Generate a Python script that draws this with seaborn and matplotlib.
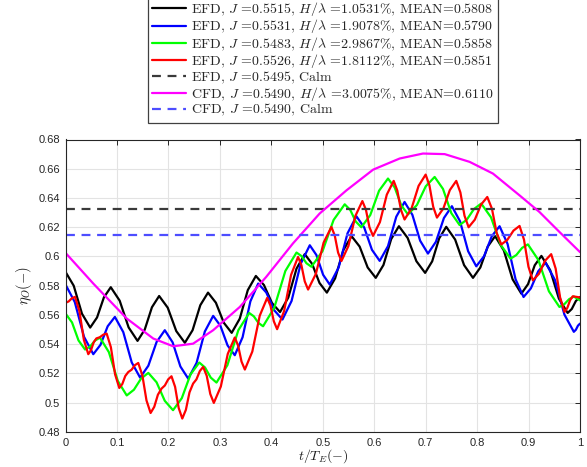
import numpy as np
import pandas as pd
import matplotlib
matplotlib.use("Agg")
import matplotlib.pyplot as plt
import seaborn as sns

# ---------------- data ----------------
t_black = [0, 0.016, 0.032, 0.048, 0.0613, 0.0747, 0.088, 0.1053, 0.1227, 0.140,
           0.154, 0.168, 0.182, 0.1987, 0.2153, 0.232, 0.247, 0.262, 0.277, 0.2923,
           0.3077, 0.323, 0.3387, 0.3543, 0.370, 0.3857, 0.4013, 0.417, 0.433, 0.449,
           0.465, 0.4793, 0.4937, 0.508, 0.524, 0.540, 0.556, 0.5717, 0.5873, 0.603,
           0.618, 0.633, 0.648, 0.665, 0.682, 0.699, 0.7127, 0.7263, 0.740, 0.7573,
           0.7747, 0.792, 0.8063, 0.8207, 0.835, 0.852, 0.869, 0.886, 0.899, 0.912,
           0.925, 0.942, 0.959, 0.976, 0.984, 0.992, 1.0]
eta_black = [0.5895, 0.5800, 0.5609, 0.5514, 0.5583, 0.5721, 0.5790, 0.5698, 0.5515, 0.5423,
             0.5500, 0.5653, 0.5730, 0.5650, 0.5490, 0.5410, 0.5496, 0.5667, 0.5753, 0.5684,
             0.5547, 0.5478, 0.5575, 0.5770, 0.5867, 0.5805, 0.5682, 0.5620, 0.5719, 0.5917,
             0.6016, 0.5950, 0.5819, 0.5753, 0.5850, 0.6043, 0.6139, 0.6068, 0.5925, 0.5854,
             0.5942, 0.6119, 0.6207, 0.6127, 0.5968, 0.5888, 0.5967, 0.6124, 0.6203, 0.6116,
             0.5941, 0.5854, 0.5925, 0.6068, 0.6139, 0.6041, 0.5844, 0.5746, 0.5811, 0.5940,
             0.6004, 0.5907, 0.5712, 0.5614, 0.5641, 0.5696, 0.5723]

t_blue = [0, 0.018, 0.036, 0.054, 0.068, 0.082, 0.096, 0.1123, 0.1287, 0.145,
          0.161, 0.177, 0.193, 0.2082, 0.2233, 0.2385, 0.2547, 0.2708, 0.287, 0.301,
          0.315, 0.329, 0.3442, 0.3593, 0.3745, 0.3902, 0.406, 0.4217, 0.4394, 0.4571,
          0.4748, 0.4877, 0.5007, 0.5136, 0.5309, 0.5481, 0.5654, 0.5805, 0.5956, 0.6107,
          0.6268, 0.6429, 0.659, 0.6742, 0.6893, 0.7045, 0.72, 0.7355, 0.751, 0.7668,
          0.7826, 0.7984, 0.8135, 0.8286, 0.8437, 0.8592, 0.8748, 0.8903, 0.9045, 0.9188,
          0.933, 0.9513, 0.9697, 0.988, 0.992, 0.996, 1.0]
eta_blue = [0.5808, 0.5689, 0.5451, 0.5332, 0.5396, 0.5523, 0.5587, 0.5483, 0.5276, 0.5172,
            0.5253, 0.5415, 0.5496, 0.5413, 0.5248, 0.5165, 0.5272, 0.5487, 0.5594, 0.5527,
            0.5392, 0.5325, 0.5448, 0.5693, 0.5815, 0.5754, 0.5631, 0.5569, 0.5696, 0.5950,
            0.6077, 0.6010, 0.5875, 0.5808, 0.5925, 0.6158, 0.6275, 0.6199, 0.6046, 0.5970,
            0.6071, 0.6272, 0.6373, 0.6285, 0.6108, 0.6020, 0.6101, 0.6263, 0.6344, 0.6241,
            0.6036, 0.5933, 0.6002, 0.6139, 0.6207, 0.6086, 0.5844, 0.5723, 0.5782, 0.5899,
            0.5958, 0.5840, 0.5603, 0.5485, 0.5499, 0.5527, 0.5541]

t_green = [0, 0.0127, 0.0253, 0.038, 0.0477, 0.0573, 0.067, 0.0843, 0.1017, 0.119,
           0.133, 0.147, 0.161, 0.177, 0.193, 0.209, 0.226, 0.243, 0.260, 0.2712,
           0.2823, 0.2935, 0.3147, 0.3358, 0.357, 0.366, 0.375, 0.384, 0.4057, 0.4273,
           0.449, 0.4587, 0.4683, 0.478, 0.4996, 0.5211, 0.5427, 0.5535, 0.5642, 0.575,
           0.5923, 0.6095, 0.6268, 0.6398, 0.6527, 0.6657, 0.6830, 0.7002, 0.7175, 0.7337,
           0.7498, 0.766, 0.780, 0.794, 0.808, 0.827, 0.846, 0.865, 0.8762, 0.8875,
           0.8987, 0.9191, 0.9396, 0.960, 0.9693, 0.9787, 0.988, 0.994, 1.0]
eta_green = [0.5610, 0.5549, 0.5426, 0.5364, 0.5384, 0.5425, 0.5445, 0.5346, 0.5149, 0.5050,
             0.5089, 0.5166, 0.5204, 0.5140, 0.5013, 0.4949, 0.5031, 0.5194, 0.5275, 0.5241,
             0.5172, 0.5138, 0.5257, 0.5495, 0.5614, 0.5591, 0.5546, 0.5523, 0.5649, 0.5901,
             0.6027, 0.6003, 0.5954, 0.5930, 0.6037, 0.6250, 0.6357, 0.6318, 0.6239, 0.6200,
             0.6283, 0.6450, 0.6533, 0.6472, 0.6349, 0.6288, 0.6352, 0.6480, 0.6544, 0.6462,
             0.6297, 0.6215, 0.6252, 0.6325, 0.6362, 0.6268, 0.6079, 0.5985, 0.6010, 0.6059,
             0.6083, 0.5976, 0.5762, 0.5655, 0.5673, 0.5708, 0.5726, 0.5713, 0.5700]

t_red = [0, 0.0062, 0.0123, 0.0185, 0.0271, 0.0357, 0.0443, 0.0495, 0.0548, 0.060,
         0.0667, 0.0733, 0.080, 0.0882, 0.0964, 0.1046, 0.1104, 0.1162, 0.122, 0.1285,
         0.1349, 0.1414, 0.1494, 0.1574, 0.1654, 0.1725, 0.1796, 0.1867, 0.1931, 0.1996,
         0.206, 0.213, 0.220, 0.227, 0.234, 0.241, 0.248, 0.2545, 0.2611, 0.2676,
         0.2745, 0.2814, 0.2883, 0.3019, 0.3154, 0.329, 0.3355, 0.3421, 0.3486, 0.3631,
         0.3775, 0.392, 0.3984, 0.4049, 0.4113, 0.4249, 0.4384, 0.452, 0.4585, 0.465,
         0.4715, 0.4866, 0.5017, 0.5168, 0.5233, 0.5298, 0.5363, 0.5499, 0.5634, 0.577,
         0.5839, 0.5908, 0.5977, 0.6111, 0.6245, 0.6379, 0.6449, 0.652, 0.659, 0.6727,
         0.6863, 0.700, 0.7073, 0.7147, 0.722, 0.7345, 0.747, 0.7595, 0.7675, 0.7755,
         0.7835, 0.7956, 0.8077, 0.8198, 0.8289, 0.8379, 0.847, 0.8588, 0.8707, 0.8825,
         0.8911, 0.8998, 0.9084, 0.9203, 0.9321, 0.944, 0.9527, 0.9613, 0.970, 0.9753,
         0.9807, 0.986, 0.993, 1.0]
eta_red = [0.5683, 0.5693, 0.5714, 0.5724, 0.5626, 0.5430, 0.5332, 0.5359, 0.5413, 0.5440,
           0.5448, 0.5465, 0.5473, 0.5380, 0.5194, 0.5101, 0.5128, 0.5183, 0.5210, 0.5226,
           0.5257, 0.5272, 0.5187, 0.5016, 0.4930, 0.4972, 0.5055, 0.5097, 0.5118, 0.5160,
           0.5181, 0.5109, 0.4964, 0.4892, 0.4952, 0.5071, 0.5131, 0.5160, 0.5217, 0.5245,
           0.5184, 0.5060, 0.4999, 0.5111, 0.5334, 0.5446, 0.5391, 0.5282, 0.5227, 0.5350,
           0.5595, 0.5717, 0.5664, 0.5557, 0.5503, 0.5627, 0.5874, 0.5997, 0.5941, 0.5830,
           0.5774, 0.5881, 0.6095, 0.6202, 0.6144, 0.6027, 0.5969, 0.6072, 0.6277, 0.6379,
           0.6320, 0.6200, 0.6141, 0.6235, 0.6423, 0.6517, 0.6451, 0.6319, 0.6253, 0.6330,
           0.6483, 0.6560, 0.6487, 0.6340, 0.6266, 0.6329, 0.6454, 0.6517, 0.6438, 0.6279,
           0.6200, 0.6252, 0.6355, 0.6407, 0.6326, 0.6163, 0.6082, 0.6114, 0.6177, 0.6209,
           0.6116, 0.5930, 0.5837, 0.5882, 0.5971, 0.6016, 0.5917, 0.5720, 0.5621, 0.5648,
           0.5701, 0.5728, 0.5724, 0.5720]

t_cfd = [0, 0.054, 0.119, 0.1706, 0.2094, 0.248, 0.287, 0.3388, 0.39, 0.442, 0.494,
         0.546, 0.598, 0.6495, 0.6948, 0.737, 0.7855, 0.8308, 0.8825, 0.921, 0.96, 1.0]
eta_cfd = [0.6025, 0.5815, 0.5576, 0.5439, 0.5386, 0.5404, 0.5496, 0.5655, 0.5860, 0.6089, 0.6294,
           0.6452, 0.6594, 0.6670, 0.6704, 0.6700, 0.6647, 0.6567, 0.6418, 0.6305, 0.6168, 0.6030]

t_calm = [0.0, 1.0]
eta_efd_calm = [0.6323, 0.6323]
eta_cfd_calm = [0.6145, 0.6145]

labels = [
    r"EFD, $J$ =0.5515, $H/\lambda$ =1.0531%, MEAN=0.5808",
    r"EFD, $J$ =0.5531, $H/\lambda$ =1.9078%, MEAN=0.5790",
    r"EFD, $J$ =0.5483, $H/\lambda$ =2.9867%, MEAN=0.5858",
    r"EFD, $J$ =0.5526, $H/\lambda$ =1.8112%, MEAN=0.5851",
    r"EFD, $J$ =0.5495, Calm",
    r"CFD, $J$ =0.5490, $H/\lambda$ =3.0075%, MEAN=0.6110",
    r"CFD, $J$ =0.5490, Calm",
]
x_ticks = [0, 0.1, 0.2, 0.3, 0.4, 0.5, 0.6, 0.7, 0.8, 0.9, 1.0]
x_tick_labels = ["0", "0.1", "0.2", "0.3", "0.4", "0.5", "0.6", "0.7", "0.8", "0.9", "1"]
y_ticks = [0.48, 0.50, 0.52, 0.54, 0.56, 0.58, 0.60, 0.62, 0.64, 0.66, 0.68]
y_tick_labels = ["0.48", "0.5", "0.52", "0.54", "0.56", "0.58", "0.6", "0.62", "0.64", "0.66", "0.68"]

# ---------------- styling ----------------
sns.set_theme(style="white")
plt.rcParams["font.family"] = ["Liberation Sans", "DejaVu Sans"]
plt.rcParams["mathtext.fontset"] = "cm"

series = [
    (t_black, eta_black, "#000000", "-"),
    (t_blue, eta_blue, "#0000FF", "-"),
    (t_green, eta_green, "#00FF00", "-"),
    (t_red, eta_red, "#FF0000", "-"),
    (t_calm, eta_efd_calm, "#3a3a3a", (0, (4, 3))),
    (t_cfd, eta_cfd, "#FF00FF", "-"),
    (t_calm, eta_cfd_calm, "#4d4dff", (0, (4, 3))),
]

fig = plt.figure(figsize=(5.87, 4.67), dpi=100)
ax = fig.add_axes([65.5 / 587, 35 / 467, 514.5 / 587, 292.5 / 467])

for (tt, ee, col, ls), lab in zip(series, labels):
    df = pd.DataFrame({"t": tt, "eta": ee})
    sns.lineplot(data=df, x="t", y="eta", ax=ax, color=col, linestyle=ls,
                 linewidth=1.6, label=lab, estimator=None, sort=False)

ax.set_xlim(0, 1)
ax.set_ylim(0.48, 0.68)
ax.set_xticks(x_ticks)
ax.set_xticklabels(x_tick_labels)
ax.set_yticks(y_ticks)
ax.set_yticklabels(y_tick_labels)
ax.grid(True, color="#e3e3e3", linewidth=0.8)
ax.set_axisbelow(True)
ax.tick_params(direction="in", length=3.5, width=0.7, top=True, right=True,
               labelsize=8, colors="#262626", pad=4)
for sp in ax.spines.values():
    sp.set_color("#262626")
    sp.set_linewidth(0.8)

ax.set_xlabel(r"$t/T_E(-)$", fontsize=10, labelpad=-0.5, color="#1a1a1a")
ax.set_ylabel(r"$\eta_O(-)$", fontsize=10.5, labelpad=3, color="#1a1a1a")

leg = ax.legend(loc="lower center", bbox_to_anchor=(0.5, 1.058), borderaxespad=0,
                frameon=True, fancybox=False, framealpha=1, edgecolor="#404040",
                prop={"family": "cmr10", "size": 10}, handlelength=2.45,
                handletextpad=0.35, labelspacing=-0.05, borderpad=0.3)
leg.get_frame().set_linewidth(0.9)

fig.savefig("out.png", dpi=100)
